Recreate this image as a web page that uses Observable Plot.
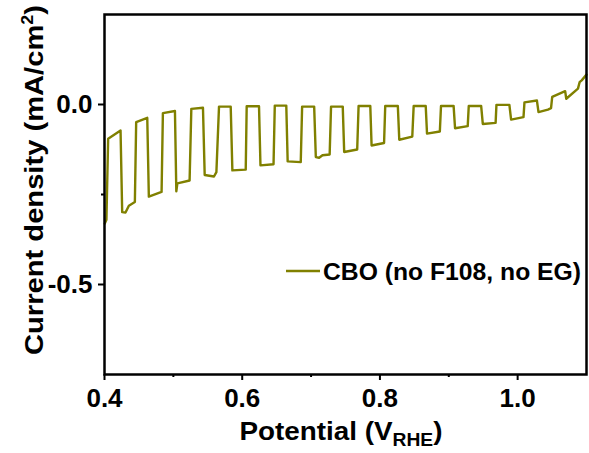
<!DOCTYPE html>
<html>
<head>
<meta charset="utf-8">
<script src="https://cdn.jsdelivr.net/npm/d3@7"></script>
<script src="https://cdn.jsdelivr.net/npm/@observablehq/plot@0.6"></script>
<style>
  html, body { margin: 0; padding: 0; background: #fff; }
  svg { display: block; }
</style>
</head>
<body>
<div id="chart"></div>
<script>
// Potential (V_RHE) and current density (mA/cm^2)
const potential = [
  0.4004, 0.4028, 0.4053, 0.4233, 0.4257, 0.4305, 0.4354, 0.4441,
  0.4460, 0.4621, 0.4644, 0.4829,
  0.4848, 0.5023, 0.5043, 0.5058, 0.5236,
  0.5261, 0.5430, 0.5455, 0.5590, 0.5625,
  0.5663, 0.5833, 0.5857, 0.6051,
  0.6065, 0.6244, 0.6265, 0.6455,
  0.6473, 0.6640, 0.6660, 0.6850,
  0.6870, 0.7045, 0.7069, 0.7117, 0.7166, 0.7270,
  0.7290, 0.7460, 0.7481, 0.7670,
  0.7690, 0.7860, 0.7879, 0.8060,
  0.8077, 0.8260, 0.8281, 0.8470,
  0.8490, 0.8665, 0.8684, 0.8870,
  0.8887, 0.9070, 0.9091, 0.9275,
  0.9290, 0.9470, 0.9494, 0.9680,
  0.9692, 0.9880, 0.9905, 1.0085,
  1.0099, 1.0280, 1.0303, 1.0440, 1.0485,
  1.0502, 1.0690, 1.0706, 1.0876, 1.0900, 1.0930, 1.1000
];
const current = [
  -0.331, -0.320, -0.095, -0.072, -0.299, -0.300, -0.281, -0.271,
  -0.049, -0.037, -0.256, -0.243,
  -0.024, -0.018, -0.241, -0.219, -0.211,
  -0.012, -0.009, -0.196, -0.200, -0.188,
  -0.006, -0.006, -0.183, -0.181,
  -0.005, -0.005, -0.169, -0.166,
  -0.003, -0.003, -0.158, -0.160,
  -0.006, -0.006, -0.146, -0.148, -0.141, -0.139,
  -0.006, -0.006, -0.132, -0.125,
  -0.004, -0.004, -0.114, -0.107,
  -0.004, -0.004, -0.098, -0.089,
  -0.004, -0.004, -0.081, -0.075,
  -0.004, -0.004, -0.066, -0.060,
  -0.004, -0.004, -0.054, -0.051,
  -0.001, -0.001, -0.042, -0.035,
  0.006, 0.011, -0.021, -0.014, -0.010,
  0.021, 0.037, 0.016, 0.044, 0.062, 0.067, 0.083
];
const xMajorTicks = [0.4, 0.6, 0.8, 1.0];
const xMinorTicks = [0.5, 0.7, 0.9];
const yMajorTicks = [0.0, -0.5];
const yMinorTicks = [-0.25];
const seriesName = "CBO (no F108, no EG)";
const lineColor = "#808000";

const data = potential.map((v, i) => ({x: v, y: current[i]}));
const FONT = "'Liberation Sans', Arial, Helvetica, sans-serif";

const svg = Plot.plot({
  width: 589,
  height: 453,
  marginLeft: 104,
  marginRight: 3,
  marginTop: 14,
  marginBottom: 79,
  style: {fontFamily: FONT, background: "#fff", color: "#000", overflow: "visible"},
  x: {domain: [0.4, 1.1]},
  y: {domain: [-0.75, 0.25]},
  marks: [
    Plot.line(data, {x: "x", y: "y", stroke: lineColor, strokeWidth: 2.4, curve: "linear"}),
    Plot.frame({stroke: "#000", strokeWidth: 2.5}),
    Plot.axisX({ticks: xMajorTicks, tickSize: 6, tickPadding: 8, tickFormat: d3.format(".1f"),
      fontSize: 26, fontWeight: "bold", strokeWidth: 2, label: null}),
    Plot.axisX({ticks: xMinorTicks, tickSize: 3, text: null, strokeWidth: 2, label: null}),
    Plot.axisY({ticks: yMajorTicks, tickSize: 6, tickPadding: 6, tickFormat: d => d3.format(".1f")(d).replace("−", "-"),
      fontSize: 26, fontWeight: "bold", strokeWidth: 2, label: null}),
    Plot.axisY({ticks: yMinorTicks, tickSize: 3, text: null, strokeWidth: 2, label: null})
  ]
});

const s = d3.select(svg);
// X axis title
const xt = s.append("text")
  .attr("x", 341).attr("y", 440)
  .attr("text-anchor", "middle")
  .attr("font-family", FONT).attr("font-weight", "bold").attr("font-size", 26)
  .attr("textLength", 203).attr("lengthAdjust", "spacingAndGlyphs")
  .attr("fill", "#000");
xt.append("tspan").text("Potential (V");
xt.append("tspan").attr("font-size", 18).attr("dy", 6).text("RHE");
xt.append("tspan").attr("dy", -6).text(")");

// Y axis title
const yt = s.append("text")
  .attr("transform", "translate(43,180) rotate(-90)")
  .attr("text-anchor", "middle")
  .attr("font-family", FONT).attr("font-weight", "bold").attr("font-size", 26)
  .attr("textLength", 350).attr("lengthAdjust", "spacingAndGlyphs")
  .attr("fill", "#000");
yt.append("tspan").text("Current density (mA/cm");
yt.append("tspan").attr("font-size", 16).attr("dy", -10).text("2");
yt.append("tspan").attr("dy", 10).text(")");

// Legend
s.append("line").attr("x1", 286).attr("x2", 320).attr("y1", 271).attr("y2", 271)
  .attr("stroke", lineColor).attr("stroke-width", 2.4);
s.append("text").attr("x", 323).attr("y", 280)
  .attr("text-anchor", "start")
  .attr("font-family", FONT).attr("font-weight", "bold").attr("font-size", 24)
  .attr("textLength", 258).attr("lengthAdjust", "spacingAndGlyphs")
  .attr("fill", "#000").text(seriesName);

document.getElementById("chart").appendChild(svg);
</script>
</body>
</html>
